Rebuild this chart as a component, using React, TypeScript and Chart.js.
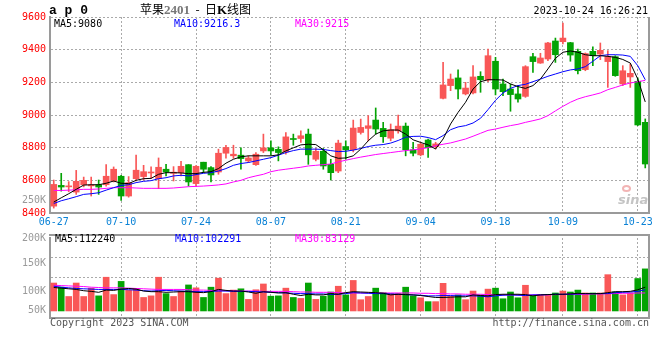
import React, { useEffect, useRef } from 'react';
import { Chart, registerables } from 'chart.js';

Chart.register(...registerables);

const dates: string[] = [
  '06-27','06-28','06-29','06-30',
  '07-03','07-04','07-05','07-06','07-07','07-10','07-11','07-12','07-13','07-14','07-17','07-18','07-19','07-20','07-21','07-24','07-25','07-26','07-27','07-28','07-31',
  '08-01','08-02','08-03','08-04','08-07','08-08','08-09','08-10','08-11','08-14','08-15','08-16','08-17','08-18','08-21','08-22','08-23','08-24','08-25','08-28','08-29','08-30','08-31',
  '09-01','09-04','09-05','09-06','09-07','09-08','09-11','09-12','09-13','09-14','09-15','09-18','09-19','09-20','09-21','09-22','09-25','09-26','09-27','09-28',
  '10-09','10-10','10-11','10-12','10-13','10-16','10-17','10-18','10-19','10-20','10-23','10-24',
];
const tickDates = ['06-27','07-10','07-24','08-07','08-21','09-04','09-18','10-09','10-23'];

const opens = [8442,8569,8560,8528,8573,8566,8573,8573,8596,8625, 8504,8610,8623,8645,8610,8668,8643,8647,8696,8580, 8711,8678,8651,8766,8750,8754,8719,8696,8780,8799, 8790,8774,8855,8856,8883,8729,8778,8698,8657,8807, 8787,8893,8918,8969,8918,8858,8903,8932,8787,8756, 8847,8806,9102,9180,9227,9129,9135,9237,9214,9329, 9190,9159,9129,9114,9357,9318,9343,9453,9449,9443, 9390,9278,9390,9373,9327,9357,9190,9233,9206,8955];
const highs = [8602,8643,8592,8661,8620,8620,8602,8696,8682,8631, 8623,8754,8692,8682,8737,8698,8684,8717,8696,8690, 8711,8684,8791,8815,8815,8799,8750,8770,8883,8842, 8805,8893,8883,8903,8914,8795,8795,8729,8846,8842, 8969,8975,8996,9043,8955,8945,9000,8951,8832,8832, 8852,8833,9322,9251,9276,9200,9302,9265,9404,9353, 9220,9190,9180,9302,9378,9378,9445,9471,9563,9445, 9404,9380,9418,9441,9394,9363,9302,9312,9227,8976];
const lows = [8430,8534,8530,8514,8560,8504,8514,8565,8590,8477, 8497,8596,8602,8612,8549,8627,8596,8627,8565,8565, 8647,8590,8637,8735,8735,8668,8709,8692,8770,8754, 8719,8760,8815,8832,8698,8719,8668,8602,8647,8729, 8774,8883,8842,8883,8832,8842,8889,8750,8750,8750, 8741,8792,9098,9149,9098,9123,9129,9139,9204,9123, 9118,9023,9078,9108,9261,9316,9333,9322,9435,9329, 9251,9271,9302,9339,9169,9237,9180,9169,8935,8676];
const closes = [8575,8559,8565,8594,8600,8570,8559,8625,8668,8504, 8586,8662,8653,8648,8680,8651,8650,8686,8590,8686, 8668,8633,8766,8801,8760,8733,8737,8760,8799,8780, 8770,8866,8850,8873,8756,8778,8688,8647,8828,8787, 8920,8924,8934,8914,8867,8910,8932,8787,8766,8821, 8800,8823,9184,9220,9159,9165,9233,9216,9363,9159, 9143,9125,9098,9296,9327,9349,9441,9369,9471,9367, 9271,9376,9363,9396,9357,9241,9271,9255,8939,8700];

const ma5 = [8467,8493,8518,8545,8571,8573,8573,8582,8596,8582, 8580,8600,8610,8612,8637,8647,8647,8645,8641,8641, 8649,8653,8672,8705,8729,8744,8750,8750,8750,8750, 8756,8780,8799,8817,8821,8819,8787,8750,8735,8737, 8750,8791,8842,8883,8903,8908,8908,8883,8848,8832, 8817,8792,8853,8945,9016,9078,9159,9204,9216,9216, 9214,9190,9174,9163,9180,9220,9282,9347,9384,9392, 9384,9369,9363,9363,9359,9353,9340,9318,9220,9080];
const ma10 = [8458,8475,8487,8500,8514,8518,8524,8540,8555,8569, 8573,8586,8594,8598,8610,8616,8627,8631,8627,8635, 8643,8647,8657,8672,8692,8703,8709,8719,8729,8739, 8754,8770,8782,8791,8791,8791,8789,8782,8776,8778, 8785,8795,8807,8815,8819,8828,8844,8864,8869,8870, 8862,8849,8874,8910,8927,8935,8951,8980,9033,9090, 9135,9163,9180,9188,9204,9220,9237,9251,9265,9276, 9282,9296,9329,9363,9369,9369,9367,9359,9302,9216];
const ma30 = [8538,8538,8540,8542,8545,8545,8547,8551,8555,8555, 8555,8553,8551,8551,8551,8551,8553,8557,8561,8563, 8565,8568,8572,8578,8590,8600,8616,8627,8637,8653, 8662,8668,8674,8680,8688,8692,8696,8700,8713,8723, 8733,8742,8750,8758,8764,8770,8776,8782,8787,8792, 8800,8812,8821,8829,8841,8853,8870,8888,8906,8914, 8925,8935,8943,8955,8965,8976,8996,9025,9053,9078, 9098,9112,9123,9135,9155,9169,9184,9196,9204,9212];

const volumes = [121800,103600,63000,121800,63000,99400,65800,147000,71400,128800, 89600,98000,58800,65800,147000,75600,63000,86800,113400,100800, 58800,103600,142800,75600,91000,96600,50400,92400,117600,64400, 65800,99400,58800,54600,121800,50400,64400,82600,107800,70000, 133000,49000,63000,99400,79800,75600,75600,103600,65800,57400, 40600,40600,120400,63000,70000,49000,86800,70000,95200,99400, 53200,82600,57400,112000,65800,70000,70000,78400,86800,82600, 91000,78400,78400,78400,158200,82600,70000,78400,141400,183400];
const vma5 = [102200,99400,96600,93800,88200,85400,81200,91000,89600,95200, 98000,95200,86800,84000,84000,81200,82600,84000,84000,81200, 79800,84000,93800,89600,86800,86800,82600,77000,84000,81200, 78400,79800,72800,67200,72800,70000,70000,75600,72800,79800, 84000,82600,81200,79800,77000,70000,72800,71400,70000,67200, 63000,58800,58800,60200,61600,61600,70000,67200,65800,71400, 72800,72800,72800,71400,65800,70000,71400,72800,72800,74200, 77000,75600,75600,75600,79800,84000,84000,85400,92400,103600];
const vma10 = [107800,103600,100800,98000,96600,95200,93800,93800,93800,93800, 92400,91000,88200,86800,88200,89600,88200,86800,85400,84000, 84000,85400,86800,86800,85400,85400,85400,84000,82600,81200, 79800,78400,77000,75600,75600,74200,74200,71400,72800,75600, 79800,78400,77000,75600,75600,74200,72800,71400,70000,68600, 65800,65800,67200,67200,65800,65800,65800,64400,61600,65800, 68600,70000,68600,67200,70000,70000,71400,72800,72800,72800, 74200,75600,75600,75600,75600,79800,81200,82600,85400,92400];
const vma30 = [112000,110600,109200,107800,106400,103600,102200,100800,100800,100800, 99400,98000,96600,95200,93800,93800,93800,93800,92400,91000, 91000,89600,89600,88200,88200,86800,86800,86800,85400,85400, 85400,85400,84000,82600,82600,81200,81200,81200,79800,78400, 78400,78400,78400,78400,78400,78400,78400,78400,78400,77000, 77000,75600,75600,74200,74200,72800,72800,72800,71400,70000, 70000,70000,70000,70000,70000,70000,70000,71400,71400,72800, 72800,72800,74200,74200,75600,75600,77000,77000,78400,78400];

const priceTicks = [8400, 8600, 8800, 9000, 9200, 9400, 9600];
// the volume scale label that the source draws inside the price panel
const strayVolLabelValue = 8480;
const strayVolLabelText = '250K';
const volMin = -30700;
const volMax = 318000;
const volLabelValues = [2940, 86940, 208740, 318000];
const volLabelTexts = ['50K', '100K', '150K', '200K'];
const volGridValues = [147000, 231000];

const RED = '#f95757';
const GREEN = '#04a304';
const GRID = '#aaaaaa';
const FRAME = '#9a9a9a';
const MONO = "'DejaVu Sans Mono', monospace";

const candleColors = closes.map((c, i) => (c >= opens[i] ? RED : GREEN));
const isTick = (i: number) => tickDates.includes(dates[i]);

function xScale(showLabels: boolean, height: number) {
  return {
    offset: true,
    grid: {
      offset: false,
      drawTicks: false,
      lineWidth: 1,
      color: (ctx: any) => (ctx.index > 0 && isTick(ctx.index) ? GRID : 'rgba(0,0,0,0)'),
    },
    border: { display: true, color: FRAME, width: 2, dash: [2, 2] },
    ticks: {
      display: showLabels,
      autoSkip: false,
      maxRotation: 0,
      minRotation: 0,
      padding: 3,
      color: '#0a82d6',
      font: { family: MONO, size: 10 },
      callback: (_v: any, i: number) => (isTick(i) ? dates[i] : ''),
    },
    afterFit: (s: any) => { s.height = height; },
  };
}

function lineDs(label: string, data: number[], color: string) {
  return {
    type: 'line' as const,
    label,
    data,
    borderColor: color,
    backgroundColor: color,
    borderWidth: 1,
    pointRadius: 0,
    tension: 0,
    order: 0,
  };
}

const T = ({ x, y, right, children, style }: any) => (
  <div
    style={{
      position: 'absolute',
      left: right === undefined ? x : undefined,
      right: right !== undefined ? 660 - right : undefined,
      top: y,
      whiteSpace: 'pre',
      lineHeight: '10px',
      fontFamily: MONO,
      fontSize: 10,
      ...style,
    }}
  >
    {children}
  </div>
);

export default function App() {
  const mainRef = useRef<HTMLCanvasElement>(null);
  const volRef = useRef<HTMLCanvasElement>(null);

  useEffect(() => {
    const main = new Chart(mainRef.current!, {
      type: 'bar',
      data: {
        labels: dates,
        datasets: [
          lineDs('MA5', ma5, '#000000'),
          lineDs('MA10', ma10, '#0000ff'),
          lineDs('MA30', ma30, '#ff00ff'),
          {
            type: 'bar',
            label: 'body',
            data: opens.map((o, i) => [o, closes[i]]),
            backgroundColor: candleColors,
            barThickness: 6,
            minBarLength: 1,
            grouped: false,
            order: 1,
          } as any,
          {
            type: 'bar',
            label: 'wick',
            data: lows.map((l, i) => [l, highs[i]]),
            backgroundColor: candleColors,
            barThickness: 1,
            grouped: false,
            order: 2,
          } as any,
        ],
      },
      options: {
        animation: false,
        responsive: false,
        events: [],
        layout: { padding: { left: 0, right: 11, top: 17, bottom: 0 } },
        plugins: { legend: { display: false }, tooltip: { enabled: false } },
        scales: {
          x: xScale(true, 19) as any,
          y: {
            min: 8400,
            max: 9600,
            afterBuildTicks: (s: any) => {
              s.ticks = [...priceTicks, strayVolLabelValue].sort((a, b) => a - b).map((v) => ({ value: v }));
            },
            ticks: {
              autoSkip: false,
              padding: 4,
              font: { family: MONO, size: 10 },
              color: (ctx: any) => (ctx.tick && ctx.tick.value === strayVolLabelValue ? '#9a9a9a' : '#ff0000'),
              callback: (v: any) => (v === strayVolLabelValue ? strayVolLabelText : String(v)),
            },
            grid: {
              drawTicks: false,
              lineWidth: 1,
              color: (ctx: any) =>
                ctx.tick && priceTicks.includes(ctx.tick.value) && ctx.tick.value !== 8400 ? GRID : 'rgba(0,0,0,0)',
            },
            border: { display: true, color: FRAME, width: 2, dash: [2, 2] },
            afterFit: (s: any) => { s.width = 50; },
          } as any,
        },
      },
    });

    const vol = new Chart(volRef.current!, {
      type: 'bar',
      data: {
        labels: dates,
        datasets: [
          lineDs('VMA5', vma5, '#000000'),
          lineDs('VMA10', vma10, '#0000ff'),
          lineDs('VMA30', vma30, '#ff00ff'),
          {
            type: 'bar',
            label: 'volume',
            data: volumes,
            backgroundColor: candleColors,
            barThickness: 6,
            order: 1,
          } as any,
        ],
      },
      options: {
        animation: false,
        responsive: false,
        events: [],
        layout: { padding: { left: 0, right: 11, top: 7, bottom: 42 } },
        plugins: { legend: { display: false }, tooltip: { enabled: false } },
        scales: {
          x: xScale(false, 0) as any,
          y: {
            min: volMin,
            max: volMax,
            afterBuildTicks: (s: any) => {
              s.ticks = [...volLabelValues, ...volGridValues].sort((a, b) => a - b).map((v) => ({ value: v }));
            },
            ticks: {
              autoSkip: false,
              padding: 4,
              font: { family: MONO, size: 10 },
              color: (ctx: any) => (ctx.tick && volLabelValues.includes(ctx.tick.value) ? '#9a9a9a' : 'rgba(0,0,0,0)'),
              callback: (v: any) => {
                const k = volLabelValues.indexOf(v);
                return k >= 0 ? volLabelTexts[k] : '';
              },
            },
            grid: {
              drawTicks: false,
              lineWidth: 1,
              color: (ctx: any) => (ctx.tick && volGridValues.includes(ctx.tick.value) ? GRID : 'rgba(0,0,0,0)'),
            },
            border: { display: true, color: FRAME, width: 2, dash: [2, 2] },
            afterFit: (s: any) => { s.width = 50; },
          } as any,
        },
      },
    });

    return () => {
      main.destroy();
      vol.destroy();
    };
  }, []);

  const n = closes.length - 1;
  return (
    <div style={{ position: 'fixed', left: 0, top: 0, width: 660, height: 360, background: '#fff', overflow: 'hidden' }}>
      <canvas ref={mainRef} width={660} height={232} style={{ position: 'absolute', left: 0, top: 0 }} />
      <canvas ref={volRef} width={660} height={132} style={{ position: 'absolute', left: 0, top: 228 }} />
      {/* frame pieces not drawn by the axes */}
      <div style={{ position: 'absolute', left: 648, top: 17, width: 2, height: 197, background: FRAME }} />
      <div style={{ position: 'absolute', left: 49, top: 234, width: 601, height: 2, background: FRAME }} />
      <div style={{ position: 'absolute', left: 648, top: 234, width: 2, height: 85, background: FRAME }} />

      <T x={49} y={4} style={{ fontFamily: "'Liberation Mono', monospace", fontWeight: 'bold', fontSize: 13, lineHeight: '13px' }}>a p 0</T>
      <div style={{ position: 'absolute', left: 140, top: 3, fontSize: 12, lineHeight: '12px', whiteSpace: 'pre', fontFamily: "'Noto Sans CJK SC', sans-serif" }}>
        <span>苹果</span>
        <span style={{ color: '#777', fontFamily: "'Liberation Serif', serif", fontWeight: 'bold', fontSize: 13 }}>2401</span>
        <span>  -  日</span>
        <span style={{ fontFamily: "'Liberation Serif', serif", fontWeight: 'bold', fontSize: 13 }}>K</span>
        <span>线图</span>
      </div>
      <T right={648} y={6} style={{ color: '#000' }}>2023-10-24 16:26:21</T>

      <T x={54} y={19} style={{ color: '#000' }}>{`MA5:${ma5[n]}`}</T>
      <T x={174} y={19} style={{ color: '#0000ff' }}>MA10:9216.3</T>
      <T x={295} y={19} style={{ color: '#ff00ff' }}>MA30:9215</T>

      <T x={55} y={234} style={{ color: '#000' }}>MA5:112240</T>
      <T x={175} y={234} style={{ color: '#0000ff' }}>MA10:102291</T>
      <T x={295} y={234} style={{ color: '#ff00ff' }}>MA30:83129</T>

      {/* watermark */}
      <div style={{ position: 'absolute', left: 622, top: 185, width: 9, height: 7, borderRadius: '50%', border: '2px solid #f2b4b4', boxSizing: 'border-box' }} />
      <div style={{ position: 'absolute', left: 618, top: 193, fontFamily: "'DejaVu Sans', sans-serif", fontStyle: 'italic', fontWeight: 'bold', fontSize: 13, lineHeight: '13px', color: '#c4c4c4' }}>sina</div>

      <T x={50} y={318} style={{ color: '#555' }}>Copyright 2023 SINA.COM</T>
      <T right={649} y={318} style={{ color: '#555' }}>http://finance.sina.com.cn</T>
    </div>
  );
}
